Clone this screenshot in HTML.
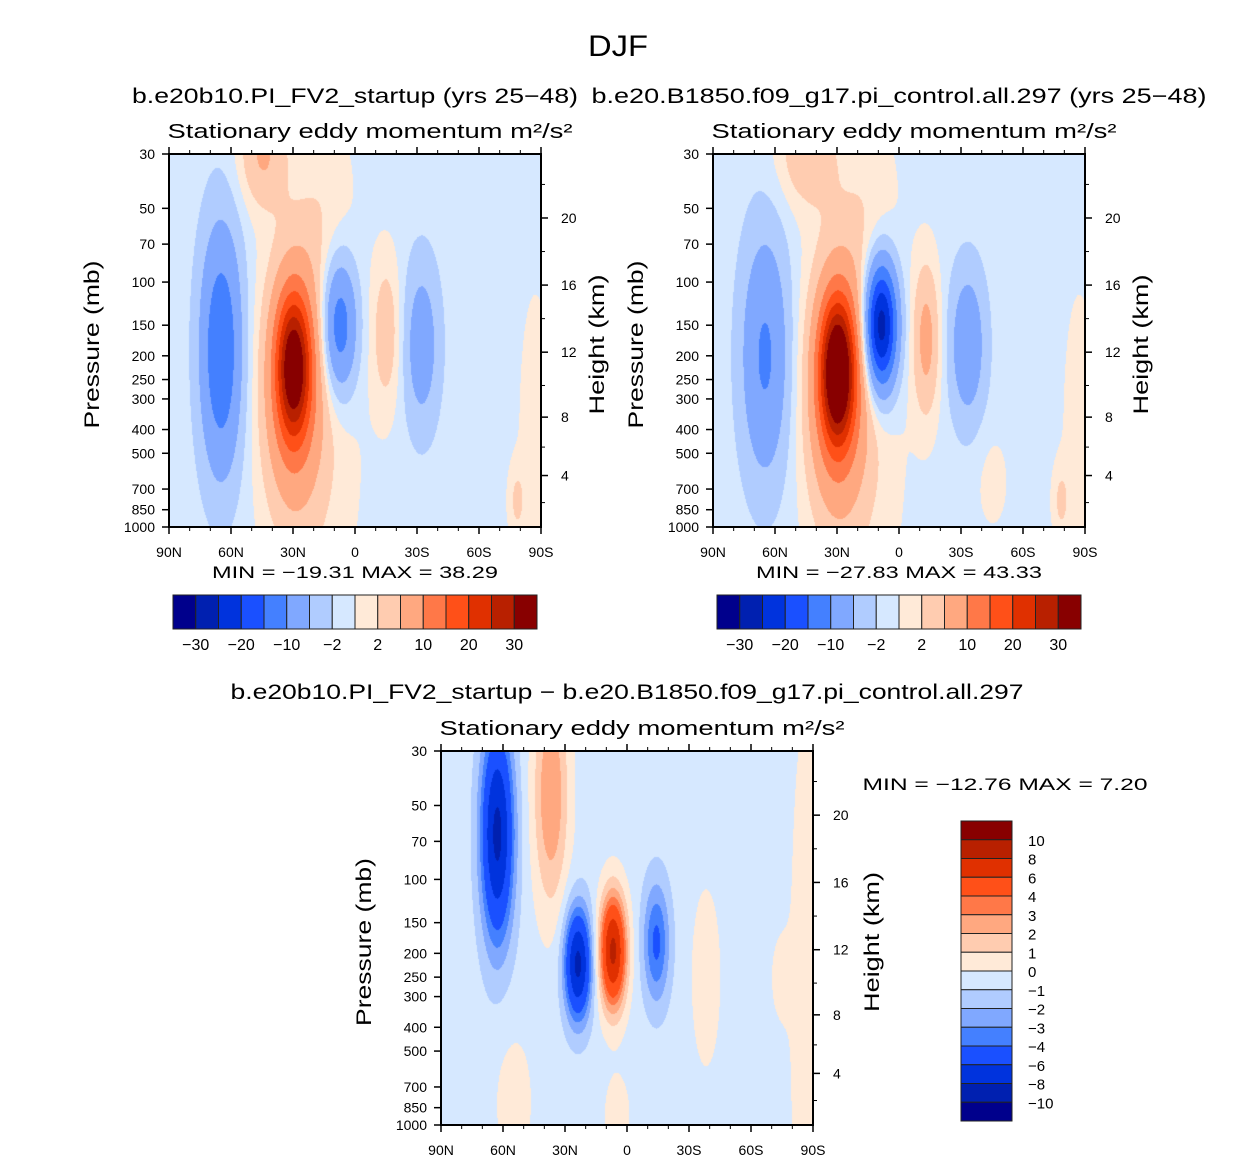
<!DOCTYPE html>
<html><head><meta charset="utf-8">
<style>
body{margin:0;background:#fff;width:1258px;height:1161px;overflow:hidden;position:relative;font-family:"Liberation Sans",sans-serif}
canvas{position:absolute}
svg{position:absolute;left:0;top:0}
text{font-family:"Liberation Sans",sans-serif;fill:#000}
</style></head><body>
<canvas id="c1" width="372" height="373" style="left:169px;top:154px"></canvas>
<canvas id="c2" width="372" height="373" style="left:713px;top:154px"></canvas>
<canvas id="c3" width="372" height="374" style="left:441px;top:751px"></canvas>
<svg id="s" width="1258" height="1161"></svg>
<script>
// ---- data ----
const pLevels=[30,50,70,100,150,200,250,300,400,500,700,850,1000];
const latTicks=[90,60,30,0,-30,-60,-90];
const latLabels=["90N","60N","30N","0","30S","60S","90S"];
const kmTicks=[20,16,12,8,4];
const levelsTop=[-30,-25,-20,-15,-10,-5,-2,0,2,5,10,15,20,25,30];
const levelsTopLabels=["−30","−20","−10","−2","2","10","20","30"];
const levelsDiff=[-10,-8,-6,-4,-3,-2,-1,0,1,2,3,4,6,8,10];
const levelsDiffLabels=["10","8","6","4","3","2","1","0","−1","−2","−3","−4","−6","−8","−10"];
const colors=['#00008c','#0020b0','#0033dd','#1a50ff','#4480ff','#80a8ff','#b0ccff','#d6e8ff','#ffead8','#ffccb0','#ffa880','#ff7848','#ff5018','#e03000','#b82000','#880000'];
// blobs: [lat, p(mb), amplitude, sigmaLat, sigmaLnP]
const base1=-0.8;
const blobs1=[[65,190,-14,7,0.8],[30,220,26,5.5,0.45],[30,260,12,10,0.8],[45,30,6,8,0.35],[8,150,-14,6,0.45],[-15,160,4.5,5,0.5],[-32,180,-7,6,0.55],[15,60,1.8,10,0.8],[20,400,2.2,16,1.4],[-87,400,1.8,6,1.0],[-78,780,3,3,0.25]];
const base2=-0.8;
const blobs2=[[65,200,-10,8,0.8],[30,230,31,5.5,0.45],[30,270,13,10,0.8],[45,30,5,10,0.35],[9,150,-29,5.5,0.42],[-13,170,7,4.5,0.5],[-33,180,-8,6,0.5],[15,60,1.8,10,0.8],[20,400,2.2,16,1.4],[-87,400,1.8,6,1.0],[-78,780,3,3,0.25],[-45,650,1.5,6,0.35]];
const base3=-0.5;
const blobs3=[[63,65,-8,5.5,0.7],[37,45,3.5,6,0.75],[24,220,-8,4.5,0.36],[7,195,9,4.5,0.37],[-14,180,-3.8,4.5,0.4],[-38,250,1.3,5,0.6],[-86,300,1.4,5,1.8],[55,800,1,7,0.5],[5,900,1,5,0.3],[-75,250,1.1,4,0.3]];
const stats=["MIN = −19.31   MAX =  38.29","MIN = −27.83   MAX =  43.33","MIN = −12.76   MAX =    7.20"];

const LN30=Math.log(30),LNR=Math.log(1000)-Math.log(30);
function yOf(p,top,H){return top+(Math.log(p)-LN30)/LNR*H;}
function xOf(lat,left,W){return left+(90-lat)/180*W;}
function field(lat,lnp,base,blobs){let v=base;for(const b of blobs){const dl=(lat-b[0])/b[3],dp=(lnp-Math.log(b[1]))/b[4];v+=b[2]*Math.exp(-0.5*(dl*dl+dp*dp));}return v;}
function colIdx(v,lev){let i=0;while(i<lev.length&&v>=lev[i])i++;return i;}
function hex(h){return [parseInt(h.substr(1,2),16),parseInt(h.substr(3,2),16),parseInt(h.substr(5,2),16)];}
const rgb=colors.map(hex);
function paint(id,base,blobs,lev){const c=document.getElementById(id),ctx=c.getContext('2d'),W=c.width,H=c.height,img=ctx.createImageData(W,H);
for(let j=0;j<H;j++){const lnp=LN30+j/H*LNR;for(let i=0;i<W;i++){const lat=90-i/W*180;const k=colIdx(field(lat,lnp,base,blobs),lev);const o=(j*W+i)*4;img.data[o]=rgb[k][0];img.data[o+1]=rgb[k][1];img.data[o+2]=rgb[k][2];img.data[o+3]=255;}}
ctx.putImageData(img,0,0);}
paint('c1',base1,blobs1,levelsTop);paint('c2',base2,blobs2,levelsTop);paint('c3',base3,blobs3,levelsDiff);

const S=document.getElementById('s');const NS='http://www.w3.org/2000/svg';
function el(tag,attrs,txt){const e=document.createElementNS(NS,tag);for(const k in attrs)e.setAttribute(k,attrs[k]);if(txt!==undefined)e.textContent=txt;S.appendChild(e);return e;}
function txt(x,y,s,size,name,anchor,rot,len){const t=el('text',{x:x,y:y,'font-size':size,'text-anchor':anchor||'middle'},s);if(rot)t.setAttribute('transform','rotate(-90 '+x+' '+y+')');
if(len){t.setAttribute('textLength',len);t.setAttribute('lengthAdjust','spacingAndGlyphs');}

return t;}
function zOfKm(z){z*=1000;return z<=11000?1013.25*Math.pow(1-2.25577e-5*z,5.2559):226.32*Math.exp(-(z-11000)/6341.6);}
function axes(L,T,W,H,pre,hx){
  const r=el('rect',{x:L,y:T,width:W,height:H,fill:'none',stroke:'#000','stroke-width':2});
  
  
  pLevels.forEach(p=>{const y=yOf(p,T,H);el('line',{x1:L-7,x2:L,y1:y,y2:y,stroke:'#000','stroke-width':1.5});txt(L-14,y+5,String(p),14,pre+'-pressure-tick-label','end');});
  latTicks.forEach((lat,i)=>{const x=xOf(lat,L,W);el('line',{x1:x,x2:x,y1:T+H,y2:T+H+7,stroke:'#000','stroke-width':1.5});el('line',{x1:x,x2:x,y1:T,y2:T-7,stroke:'#000','stroke-width':1.5});txt(x,T+H+30,latLabels[i],14,pre+'-latitude-tick-label');});
  for(let lat=80;lat>-90;lat-=10){if(lat%30===0)continue;const x=xOf(lat,L,W);el('line',{x1:x,x2:x,y1:T+H,y2:T+H+4,stroke:'#000'});el('line',{x1:x,x2:x,y1:T,y2:T-4,stroke:'#000'});}
  kmTicks.forEach(z=>{const y=yOf(zOfKm(z),T,H);el('line',{x1:L+W,x2:L+W+7,y1:y,y2:y,stroke:'#000','stroke-width':1.5});txt(L+W+20,y+5,String(z),14,pre+'-height-tick-label','start');});
  for(let z=2;z<24;z+=2){if(z%4===0)continue;const y=yOf(zOfKm(z),T,H);if(y>T&&y<T+H)el('line',{x1:L+W,x2:L+W+4,y1:y,y2:y,stroke:'#000'});}
  txt(L-70,T+H/2+4,'Pressure  (mb)',21,pre+'-y-axis-title','middle',true,168);
  txt(L+W+hx,T+H/2+4,'Height  (km)',21,pre+'-right-axis-title','middle',true,140);
  txt(L+W/2+15,T-16,'Stationary  eddy  momentum   m²/s²',20,pre+'-subtitle','middle',false,405);
}
txt(618,56,'DJF',30,'figure-title','middle',false,60);
txt(355,103,'b.e20b10.PI_FV2_startup  (yrs  25−48)',21,'left-panel-title','middle',false,446);
txt(899,103,'b.e20.B1850.f09_g17.pi_control.all.297  (yrs  25−48)',21,'right-panel-title','middle',false,615);
txt(627,699,'b.e20b10.PI_FV2_startup  −  b.e20.B1850.f09_g17.pi_control.all.297',21,'difference-panel-title','middle',false,793);
axes(169,154,372,373,'left',63);
axes(713,154,372,373,'right',63);
axes(441,751,372,374,'diff',66);
txt(355,578,stats[0],17,'left-min-max','middle',false,286);
txt(899,578,stats[1],17,'right-min-max','middle',false,286);
txt(1005,790,stats[2],17,'diff-min-max','middle',false,285);
function hbar(L,T,W,H,pre){const bw=W/colors.length;colors.forEach((c,i)=>{const r=el('rect',{x:L+i*bw,y:T,width:bw,height:H,fill:c,stroke:'#222','stroke-width':1});

});
levelsTopLabels.forEach((s,k)=>{txt(L+(2*k+1)*bw,T+H+21,s,16,pre+'-colorbar-label');});}
hbar(173,595,364,34,'left');hbar(717,595,364,34,'right');
(function(){const L=961,T=821,W=51,H=300,bh=H/colors.length;for(let i=0;i<colors.length;i++){const r=el('rect',{x:L,y:T+i*bh,width:W,height:bh,fill:colors[colors.length-1-i],stroke:'#222','stroke-width':1});

}
levelsDiffLabels.forEach((s,k)=>{txt(L+W+16,T+(k+1)*bh+6,s,15,'diff-colorbar-label','start');});})();
</script>
</body></html>
